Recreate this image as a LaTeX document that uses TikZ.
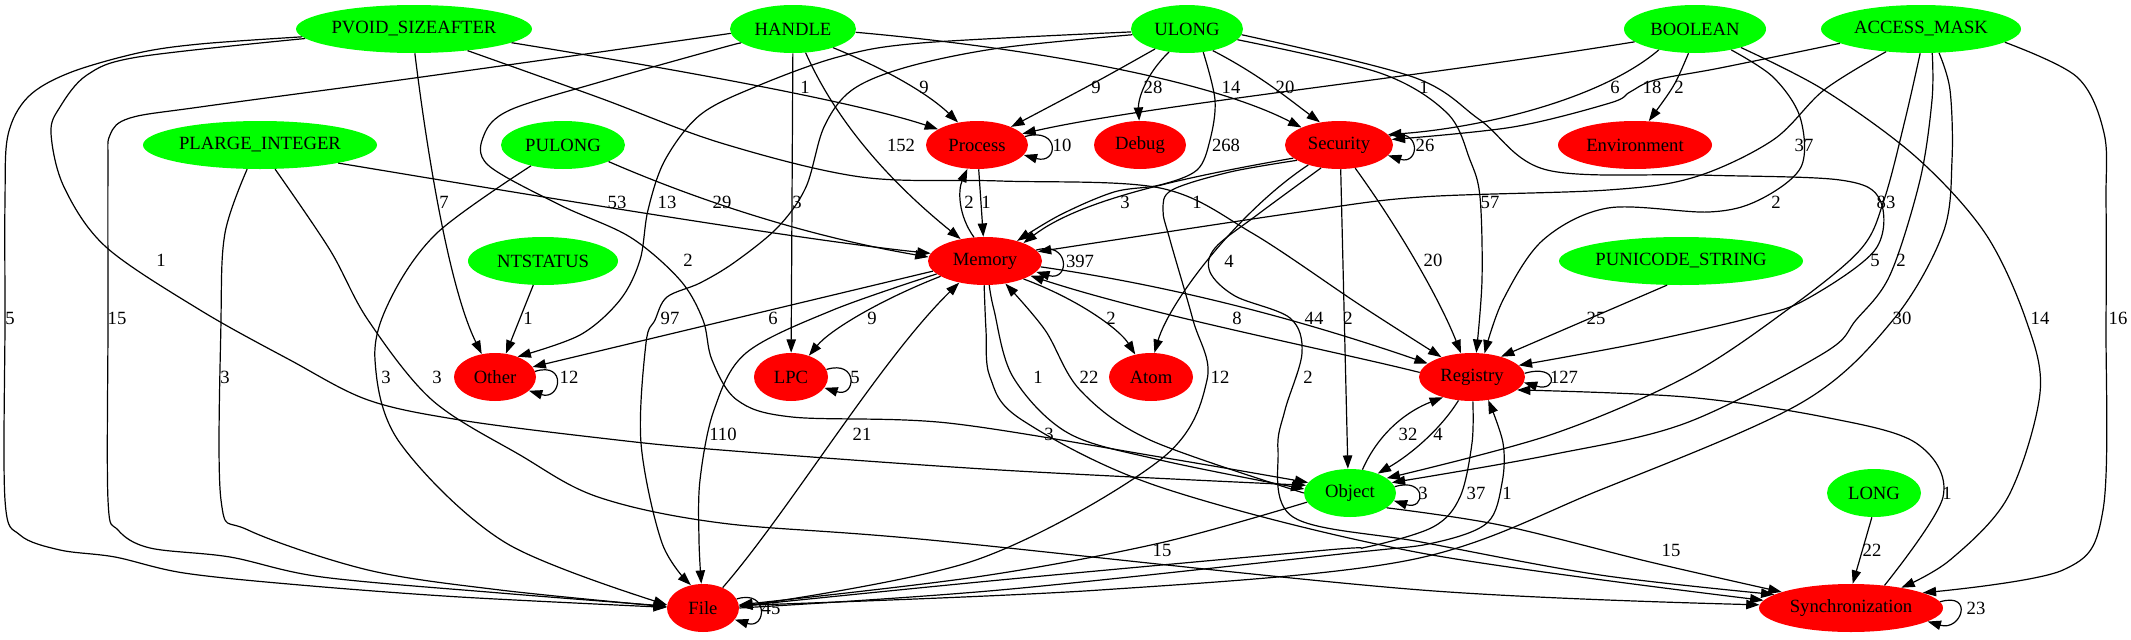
\documentclass[tikz,border=0pt]{standalone}
\usepackage{fontspec}
\setmainfont{Liberation Serif}
\usetikzlibrary{shapes.geometric,arrows.meta}
\definecolor{gcol}{RGB}{0,255,0}
\definecolor{rcol}{RGB}{255,0,0}
\begin{document}
\begin{tikzpicture}[x=0.75pt,y=-0.75pt,
  nd/.style={ellipse, inner sep=0pt, minimum height=36pt, font=\fontsize{14}{16}\selectfont, text=black},
  gn/.style={nd, fill=gcol},
  rn/.style={nd, fill=rcol},
  conn/.style={draw=black, line width=0.9pt, -{Triangle[length=10pt,width=7pt]}},
  lbl/.style={font=\fontsize{14}{16}\selectfont, inner sep=0pt},
  sm/.style={smooth, tension=0.55}]
\useasboundingbox (0,0) rectangle (2131,639);
% ---------- nodes ----------
\node[gn, minimum width=177pt]   (pv) at (414,29)  {PVOID\_SIZEAFTER};
\node[gn, minimum width=94.5pt]  (hd) at (793,29)  {HANDLE};
\node[gn, minimum width=84pt]    (ul) at (1187,29) {ULONG};
\node[gn, minimum width=106.5pt] (bo) at (1695,29) {BOOLEAN};
\node[gn, minimum width=150pt]   (am) at (1921,29) {ACCESS\_MASK};
\node[gn, minimum width=175.5pt] (pl) at (260,145) {PLARGE\_INTEGER};
\node[gn, minimum width=93pt]    (pu) at (563,145) {PULONG};
\node[rn, minimum width=76.5pt]  (pr) at (977,145) {Process};
\node[rn, minimum width=69pt]    (db) at (1140,145) {Debug};
\node[rn, minimum width=81pt]    (se) at (1339,145) {Security};
\node[rn, minimum width=115.5pt] (en) at (1635,145) {Environment};
\node[gn, minimum width=112.5pt] (nt) at (543,261) {NTSTATUS};
\node[rn, minimum width=85.5pt]  (me) at (985,261) {Memory};
\node[gn, minimum width=183pt]   (us) at (1681,261) {PUNICODE\_STRING};
\node[rn, minimum width=61.5pt]  (ot) at (495,377) {Other};
\node[rn, minimum width=55.5pt]  (lp) at (791,377) {LPC};
\node[rn, minimum width=63pt]    (at) at (1151,377) {Atom};
\node[rn, minimum width=79.5pt]  (rg) at (1472,377) {Registry};
\node[gn, minimum width=69pt]    (ob) at (1350,493) {Object};
\node[gn, minimum width=70.5pt]  (lo) at (1874,493) {LONG};
\node[rn, minimum width=54pt]    (fi) at (703,608) {File};
\node[rn, minimum width=138pt]   (sy) at (1851,608) {Synchronization};
% ---------- PVOID_SIZEAFTER ----------
\draw[conn] (pv.-8) .. controls (650,65) and (850,100) .. (pr.158);
\draw[conn] (pv.-88) .. controls (428,160) and (450,290) .. (ot.120);
\draw[conn] plot[sm] coordinates {(pv.-22) (600,98) (721,143) (861,177) (1000,181) (1160,188) (1252,233) (1360,305) (rg.147)};
\draw[conn] plot[sm] coordinates {(pv.184) (200,44) (138,53) (69,73) (28,97) (8,135) (5,200) (5,320) (5,500) (20,535) (60,550) (115,557) (184,573) (300,585) (460,597) (fi.179)};
\draw[conn] plot[sm] coordinates {(pv.185) (138,57) (87,75) (60,107) (51,133) (64,187) (106,247) (200,310) (290,360) (368,400) (460,420) (600,438) (721,450) (1000,470) (ob.170)};
% ---------- HANDLE ----------
\draw[conn] (hd.-25) .. controls (900,75) and (935,100) .. (pr.130);
\draw[conn] (hd.-3) .. controls (1000,45) and (1200,75) .. (se.155);
\draw[conn] (hd.-62) .. controls (840,130) and (900,190) .. (me.138);
\draw[conn] (hd) -- (lp);
\draw[conn] plot[sm] coordinates {(hd.184) (600,52) (400,80) (200,107) (130,118) (110,135) (108,170) (108,320) (108,500) (118,530) (150,548) (230,557) (322,577) (500,593) (fi.177)};
\draw[conn] plot[sm] coordinates {(hd.195) (721,48) (600,82) (510,110) (484,135) (488,165) (560,205) (630,237) (680,280) (703,320) (712,360) (737,400) (792,417) (948,423) (1160,457) (ob.166)};
% ---------- ULONG ----------
\draw[conn] (ul.-148) .. controls (1100,80) .. (pr.28);
\draw[conn] (ul.-128) .. controls (1145,75) and (1138,100) .. (db.92);
\draw[conn] (ul.-40) .. controls (1260,75) and (1290,100) .. (se.130);
\draw[conn] plot[sm] coordinates {(ul.-55) (1215,100) (1210,140) (1197,170) (1160,185) (1114,192) (1060,215) (me.32)};
\draw[conn] plot[sm] coordinates {(ul.183) (921,43) (838,57) (755,87) (700,115) (665,160) (648,210) (640,260) (620,300) (580,335) (ot.42)};
\draw[conn] plot[sm] coordinates {(ul.186) (1000,48) (907,67) (852,90) (824,127) (806,187) (778,227) (735,262) (700,283) (667,297) (655,320) (646,343) (641,443) (662,543) (fi.118)};
\draw[conn] plot[sm] coordinates {(ul.-12) (1380,73) (1447,113) (1470,160) (1480,197) (1482,280) (rg.80)};
\draw[conn] plot[sm] coordinates {(ul.-6) (1413,77) (1480,120) (1547,170) (1700,175) (1840,180) (1880,200) (1875,250) (1805,300) (1750,318) (1640,343) (rg.14)};
% ---------- BOOLEAN ----------
\draw[conn] (bo.192) .. controls (1400,80) and (1150,105) .. (pr.14);
\draw[conn] (bo.210) .. controls (1600,100) and (1480,128) .. (se.12);
\draw[conn] (bo.-105) .. controls (1675,85) .. (en.60);
\draw[conn] plot[sm] coordinates {(bo.-30) (1773,77) (1800,117) (1801,167) (1759,200) (1709,212) (1608,208) (1543,240) (1503,300) (rg.62)};
\draw[conn] plot[sm] coordinates {(bo.-22) (1824,90) (1916,157) (1985,233) (2026,320) (2040,393) (2008,497) (1950,560) (sy.22)};
% ---------- ACCESS_MASK ----------
\draw[conn] plot[sm] coordinates {(am.190) (1720,68) (1655,80) (1630,92) (1610,103) (1513,127) (se.6)};
\draw[conn] plot[sm] coordinates {(am.213) (1824,90) (1773,140) (1695,177) (1608,190) (1421,197) (1300,212) (me.10)};
\draw[conn] plot[sm] coordinates {(am.-92) (1905,120) (1884,200) (1860,250) (1787,310) (1686,377) (1550,435) (ob.22)};
\draw[conn] plot[sm] coordinates {(am.-65) (1932,100) (1920,180) (1890,275) (1856,320) (1824,353) (1686,423) (1550,455) (ob.14)};
\draw[conn] plot[sm] coordinates {(am.-53) (1950,90) (1952,160) (1943,233) (1893,320) (1801,403) (1600,490) (1410,560) (1100,590) (fi.4)};
\draw[conn] plot[sm] coordinates {(am.-9) (2077,77) (2104,133) (2106,200) (2106,320) (2103,510) (2063,570) (sy.12)};
% ---------- Process / Memory ----------
\draw[conn] (pr.-86) -- (me.94);
\draw[conn] (me.115) .. controls (958,215) and (958,190) .. (pr.-112);
\draw[conn] (pr.10) .. controls +(35,-10) and +(35,10) .. (pr.-12);
% ---------- Security ----------
\draw[conn] (se.196) .. controls (1180,178) and (1080,200) .. (me.25);
\draw[conn] plot[sm] coordinates {(se.200) (1230,172) (1172,190) (1163,210) (1170,240) (1193,320) (1207,380) (1160,460) (976,560) (fi.2)};
\draw[conn] plot[sm] coordinates {(se.232) (1257,215) (1215,248) (1210,272) (1235,296) (1290,318) (1302,353) (1285,410) (1278,450) (1293,517) (1421,542) (1600,575) (sy.170)};
\draw[conn] (se.-147) .. controls (1240,210) and (1170,300) .. (at.82);
\draw[conn] (se.-55) .. controls (1400,230) and (1440,300) .. (rg.115);
\draw[conn] (se.-86) -- (ob.95);
\draw[conn] (se.10) .. controls +(32,-10) and +(32,10) .. (se.-12);
% ---------- PLARGE_INTEGER ----------
\draw[conn] (pl.-13) .. controls (500,190) and (800,240) .. (me.172);
\draw[conn] plot[sm] coordinates {(pl.-118) (225,233) (221,320) (221,500) (248,530) (368,570) (500,590) (fi.178)};
\draw[conn] plot[sm] coordinates {(pl.-58) (330,250) (368,320) (432,400) (520,455) (598,497) (721,523) (930,540) (1421,590) (sy.178)};
% ---------- PULONG ----------
\draw[conn] (pu.-20) .. controls (690,197) and (800,235) .. (me.176);
\draw[conn] plot[sm] coordinates {(pu.-147) (437,233) (390,300) (375,360) (400,443) (506,543) (fi.175)};
% ---------- NTSTATUS ----------
\draw[conn] (nt.-112) -- (ot.65);
% ---------- Memory ----------
\draw[conn] (me.191) -- (ot.15);
\draw[conn] (me.199) .. controls (880,300) and (830,330) .. (lp.50);
\draw[conn] plot[sm] coordinates {(me.195) (833,310) (746,353) (714,410) (700,480) (699,540) (fi.94)};
\draw[conn] (me.-25) .. controls (1080,300) and (1120,330) .. (at.125);
\draw[conn] (me.-6) .. controls (1200,290) and (1330,330) .. (rg.163);
\draw[conn] (rg.175) .. controls (1330,350) and (1150,315) .. (me.-18);
\draw[conn] plot[sm] coordinates {(me.-80) (994,310) (1013,377) (1068,433) (1160,460) (ob.175)};
\draw[conn] plot[sm] coordinates {(me.-92) (986,330) (990,377) (1022,420) (1160,487) (1421,553) (sy.175)};
\draw[conn] (me.12) .. controls +(34,-10) and +(34,10) .. (me.-12);
% ---------- File ----------
\draw[conn] (fi.46) .. controls (790,510) and (880,360) .. (me.-140);
\draw[conn] plot[sm] coordinates {(fi.0) (1000,590) (1350,553) (1433,543) (1487,523) (1502,483) (1503,443) (rg.-55)};
\draw[conn] (fi.15) .. controls +(32,-10) and +(32,10) .. (fi.-20);
% ---------- Registry ----------
\draw[conn] plot[sm] coordinates {(rg.-88) (1472,443) (1460,497) (1433,527) (1367,547) (1327,550) (1000,580) (fi.3)};
\draw[conn] (rg.-120) .. controls (1440,430) and (1410,455) .. (ob.35);
\draw[conn] (rg.4) .. controls +(34,-10) and +(34,10) .. (rg.-6);
% ---------- Object ----------
\draw[conn] plot[sm] coordinates {(ob.180) (1150,440) (1080,390) (1045,330) (me.-48)};
\draw[conn] (ob.62) .. controls (1380,430) and (1410,410) .. (rg.-145);
\draw[conn] plot[sm] coordinates {(ob.192) (1160,543) (976,577) (fi.5)};
\draw[conn] plot[sm] coordinates {(ob.-22) (1500,525) (1650,562) (sy.167)};
\draw[conn] (ob.8) .. controls +(32,-10) and +(32,10) .. (ob.-10);
% ---------- others ----------
\draw[conn] (us.-120) -- (rg.35);
\draw[conn] (lo.-95) -- (sy.86);
\draw[conn] plot[sm] coordinates {(sy.34) (1943,497) (1916,443) (1824,417) (1686,397) (rg.-16)};
\draw[conn] (sy.4) .. controls +(34,-10) and +(34,10) .. (sy.-10);
\draw[conn] (ot.8) .. controls +(32,-10) and +(32,10) .. (ot.-22);
\draw[conn] (lp.12) .. controls +(32,-10) and +(32,10) .. (lp.-18);
% ---------- labels ----------
\node[lbl] (t01) at (805,87) {1};
\node[lbl] (t02) at (924,87) {9};
\node[lbl] (t03) at (1096,87) {9};
\node[lbl] (t04) at (1153,87) {28};
\node[lbl] (t05) at (1231,87) {14};
\node[lbl] (t06) at (1285,87) {20};
\node[lbl] (t07) at (1424,87) {1};
\node[lbl] (t08) at (1615,87) {6};
\node[lbl] (t09) at (1652,87) {18};
\node[lbl] (t10) at (1679,87) {2};
\node[lbl] (t11) at (901,145) {152};
\node[lbl] (t12) at (1062,145) {10};
\node[lbl] (t13) at (1226,145) {268};
\node[lbl] (t14) at (1425,145) {26};
\node[lbl] (t15) at (1804,145) {37};
\node[lbl] (t16) at (444,202) {7};
\node[lbl] (t17) at (617,202) {53};
\node[lbl] (t18) at (667,202) {13};
\node[lbl] (t19) at (722,202) {29};
\node[lbl] (t20) at (797,202) {3};
\node[lbl] (t21) at (969,202) {2};
\node[lbl] (t22) at (986,202) {1};
\node[lbl] (t23) at (1125,202) {3};
\node[lbl] (t24) at (1197,202) {1};
\node[lbl] (t25) at (1490,202) {57};
\node[lbl] (t26) at (1776,202) {2};
\node[lbl] (t27) at (1886,202) {83};
\node[lbl] (t28) at (161,260) {1};
\node[lbl] (t29) at (688,260) {2};
\node[lbl] (t30) at (1080,261) {397};
\node[lbl] (t31) at (1229,261) {4};
\node[lbl] (t32) at (1433,260) {20};
\node[lbl] (t33) at (1875,260) {5};
\node[lbl] (t34) at (1901,260) {2};
\node[lbl] (t35) at (10,318) {5};
\node[lbl] (t36) at (117,318) {15};
\node[lbl] (t37) at (528,318) {1};
\node[lbl] (t38) at (670,318) {97};
\node[lbl] (t39) at (773,318) {6};
\node[lbl] (t40) at (872,318) {9};
\node[lbl] (t41) at (1111,318) {2};
\node[lbl] (t42) at (1237,318) {8};
\node[lbl] (t43) at (1314,318) {44};
\node[lbl] (t44) at (1348,318) {2};
\node[lbl] (t45) at (1596,318) {25};
\node[lbl] (t46) at (1902,318) {30};
\node[lbl] (t47) at (2040,318) {14};
\node[lbl] (t48) at (2118,318) {16};
\node[lbl] (t49) at (225,377) {3};
\node[lbl] (t50) at (386,377) {3};
\node[lbl] (t51) at (437,377) {3};
\node[lbl] (t52) at (569,377) {12};
\node[lbl] (t53) at (855,377) {5};
\node[lbl] (t54) at (1038,377) {1};
\node[lbl] (t55) at (1089,377) {22};
\node[lbl] (t56) at (1220,377) {12};
\node[lbl] (t57) at (1308,377) {2};
\node[lbl] (t58) at (1564,377) {127};
\node[lbl] (t59) at (723,434) {110};
\node[lbl] (t60) at (862,434) {21};
\node[lbl] (t61) at (1049,434) {3};
\node[lbl] (t62) at (1408,434) {32};
\node[lbl] (t63) at (1438,434) {4};
\node[lbl] (t64) at (1423,493) {3};
\node[lbl] (t65) at (1476,493) {37};
\node[lbl] (t66) at (1507,493) {1};
\node[lbl] (t67) at (1947,493) {1};
\node[lbl] (t68) at (1162,550) {15};
\node[lbl] (t69) at (1671,550) {15};
\node[lbl] (t70) at (1872,550) {22};
\node[lbl] (t71) at (771,608) {45};
\node[lbl] (t72) at (1976,608) {23};
\end{tikzpicture}
\end{document}
